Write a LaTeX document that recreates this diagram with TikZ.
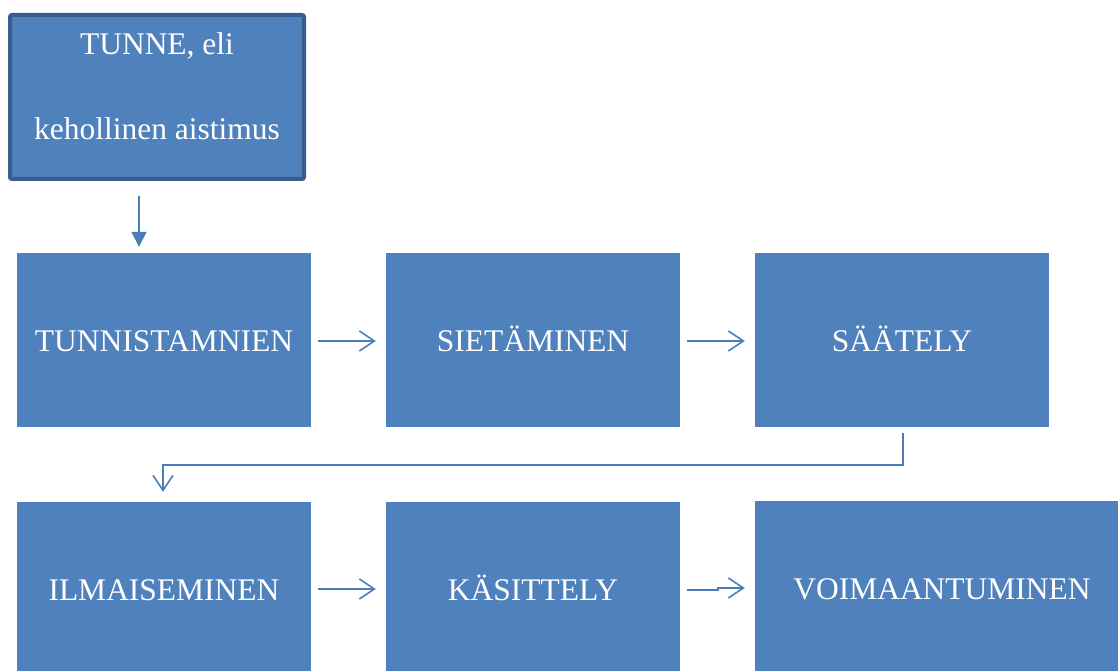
\documentclass[tikz,border=0pt]{standalone}
\usepackage{fontspec}
\setmainfont{Liberation Serif}
\usetikzlibrary{arrows.meta,calc}
\definecolor{boxblue}{HTML}{4F81BD}
\definecolor{boxedge}{HTML}{385D8A}
\definecolor{linkblue}{HTML}{4A7EBB}
\begin{document}
\begin{tikzpicture}[x=1pt,y=-1pt,
  box/.style={fill=boxblue, draw=none, minimum width=294pt, minimum height=174pt,
    inner sep=0pt, text=white, font=\fontsize{31.5}{38}\selectfont,
    text height=23pt, text depth=0pt},
  lowbox/.style={box, minimum height=169pt, text height=27pt},
  topbox/.style={fill=boxblue, draw=boxedge, line width=4pt, rounded corners=2pt,
    minimum width=294pt, minimum height=164pt, inner sep=0pt},
  toptext/.style={text=white, font=\fontsize{31.5}{38}\selectfont, inner sep=0pt},
  link/.style={draw=linkblue, line width=1.6pt,
    -{Straight Barb[length=15pt,width=20pt,line width=1.6pt]}},
  solidlink/.style={draw=linkblue, line width=1.6pt,
    -{Triangle[length=15pt,width=15pt]}},
]
\useasboundingbox (0,0) rectangle (1118,671);

% top box
\node[topbox] (tunne) at (157,97) {};
\node[toptext] (t1) at (157,46) {TUNNE, eli};
\node[toptext] (t2) at (157,129) {kehollinen aistimus};

% middle row
\node[box] (tunn) at (164,340) {TUNNISTAMNIEN};
\node[box] (siet) at (533,340) {SIETÄMINEN};
\node[box] (saat) at (902,340) {SÄÄTELY};

% bottom row
\node[lowbox] (ilm) at (164,586.5) {ILMAISEMINEN};
\node[lowbox] (kas) at (533,586.5) {KÄSITTELY};
\node[lowbox, minimum width=363pt, minimum height=170pt] (voim) at (936.5,586) {\hspace*{11pt}VOIMAANTUMINEN};

% connectors
\draw[solidlink] ($(tunne.south)+(-18,15)$) -- ($(tunn.north)+(-25,-6)$);
\draw[link] ($(tunn.east)+(7,1)$) -- ($(siet.west)+(-10,1)$);
\draw[link] ($(siet.east)+(7,1)$) -- ($(saat.west)+(-10,1)$);
\draw[link] ($(saat.south)+(1,6)$) |- ($(ilm.north)+(-1,-37)$) -- ($(ilm.north)+(-1,-10)$);
\draw[link] ($(ilm.east)+(7,2.5)$) -- ($(kas.west)+(-10,2.5)$);
\draw[link] ($(kas.east)+(7,3.5)$) -- ++(31,0) -- ++(0,-2) -- ($(voim.west)+(-10,2)$);
\end{tikzpicture}
\end{document}
